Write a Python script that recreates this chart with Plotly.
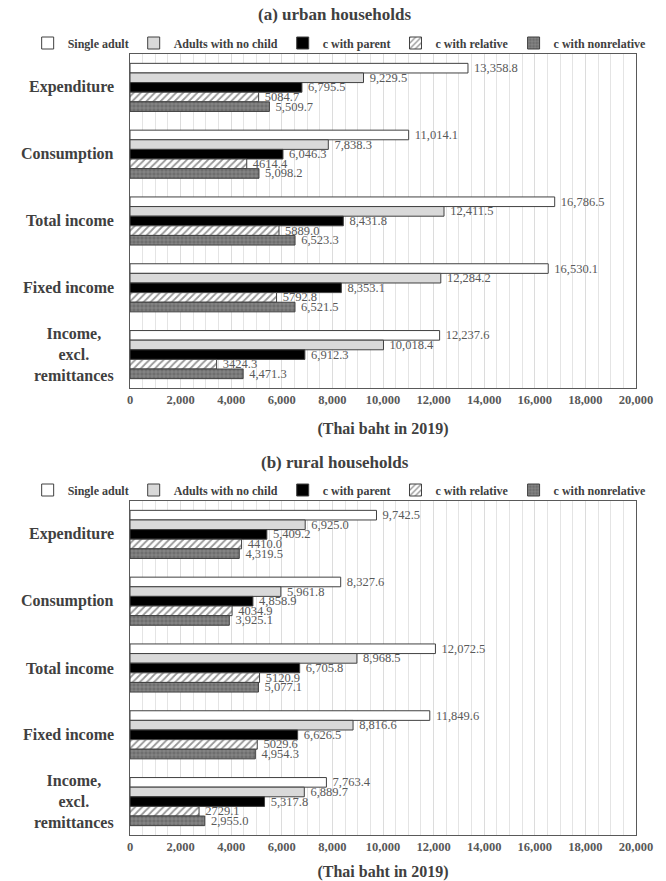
import plotly.graph_objects as go

# Household groups and their monthly figures (Thai baht, 2019)
categories = ["Expenditure", "Consumption", "Total income", "Fixed income",
              "Income, excl. remittances"]
category_labels = ["Expenditure", "Consumption", "Total income", "Fixed income",
                   "Income,<br>excl.<br>remittances"]
series_names = ["Single adult", "Adults with no child", "c with parent",
                "c with relative", "c with nonrelative"]

urban_single = [13358.8, 11014.1, 16786.5, 16530.1, 12237.6]
urban_no_child = [9229.5, 7838.3, 12411.5, 12284.2, 10018.4]
urban_parent = [6795.5, 6046.3, 8431.8, 8353.1, 6912.3]
urban_relative = [5084.7, 4614.4, 5889.0, 5792.8, 3424.3]
urban_nonrelative = [5509.7, 5098.2, 6523.3, 6521.5, 4471.3]

rural_single = [9742.5, 8327.6, 12072.5, 11849.6, 7763.4]
rural_no_child = [6925.0, 5961.8, 8968.5, 8816.6, 6889.7]
rural_parent = [5409.2, 4858.9, 6705.8, 6626.5, 5317.8]
rural_relative = [4410.0, 4034.9, 5120.9, 5029.6, 2729.1]
rural_nonrelative = [4319.5, 3925.1, 5077.1, 4954.3, 2955.0]

x_ticks = [0, 2000, 4000, 6000, 8000, 10000, 12000, 14000, 16000, 18000, 20000]

W, H = 666, 881
SERIF = "Liberation Serif, Times New Roman, Times, serif"
DARK = "#404040"
MID = "#595959"
OUTLINE = "#404040"

# fill / pattern per series
styles = [
    dict(color="#ffffff", pattern=None),
    dict(color="#d9d9d9", pattern=None),
    dict(color="#000000", pattern=None),
    dict(color="#ffffff", pattern=dict(shape="/", fgcolor="#303030", bgcolor="#ffffff",
                                       size=5, solidity=0.35, fillmode="overlay")),
    dict(color="#6e6e6e", pattern=dict(shape="+", fgcolor="#c4c4c4", bgcolor="#6e6e6e",
                                       size=4, solidity=0.25, fillmode="overlay")),
]
# the relative series is printed without a thousands separator
label_formats = ["\u00a0%{x:,.1f}", "\u00a0%{x:,.1f}", "\u00a0%{x:,.1f}",
                 "\u00a0%{x:.1f}", "\u00a0%{x:,.1f}"]

panels = [
    dict(values=[urban_single, urban_no_child, urban_parent, urban_relative, urban_nonrelative],
         xa="x", ya="y", legend="legend"),
    dict(values=[rural_single, rural_no_child, rural_parent, rural_relative, rural_nonrelative],
         xa="x2", ya="y2", legend="legend2"),
]

label_font = dict(family=SERIF, size=12.5, color=MID)

fig = go.Figure()
for p in panels:
    for name, vals, st, fmt in zip(series_names, p["values"], styles, label_formats):
        marker = dict(color=st["color"], line=dict(color=OUTLINE, width=1))
        if st["pattern"]:
            marker["pattern"] = st["pattern"]
        fig.add_trace(go.Bar(
            x=vals, y=categories, orientation="h", name=name,
            marker=marker, xaxis=p["xa"], yaxis=p["ya"], legend=p["legend"],
            texttemplate=fmt, textposition="outside", constraintext="none",
            cliponaxis=False,
            textfont=label_font, outsidetextfont=label_font,
            hoverinfo="skip",
        ))


def py(px):
    return 1 - px / H


x_dom = [130 / W, 636 / W]
dom_a = [py(388), py(54)]
dom_b = [py(835), py(501)]

xaxis_common = dict(
    range=[0, 20000], tickvals=x_ticks, tickformat=",", showgrid=True,
    gridcolor="#dcdcdc", gridwidth=1, zeroline=False,
    minor=dict(dtick=500, showgrid=True, gridcolor="#e4e4e4", gridwidth=1),
    showline=True, mirror=True, linecolor=MID, linewidth=1, ticks="",
    tickfont=dict(family=SERIF, size=12.5, color=MID, weight="bold"),
    title=dict(text="(Thai baht in 2019)", standoff=16,
               font=dict(family=SERIF, size=16, color=DARK, weight="bold")),
    automargin=False,
    domain=x_dom, fixedrange=True,
)
yaxis_common = dict(
    range=[4.5, -0.5], showticklabels=False, showgrid=False, zeroline=False,
    showline=True, mirror=True, linecolor=MID, linewidth=1, ticks="",
    automargin=False, fixedrange=True,
)

legend_common = dict(
    orientation="h", xanchor="center", x=0.51, yanchor="middle",
    font=dict(family=SERIF, size=12, color=DARK, weight="bold"),
    itemwidth=30, tracegroupgap=0, traceorder="normal",
    bgcolor="rgba(0,0,0,0)",
)

annotations = []
for ya_ref, xd in (("y", "x domain"), ("y2", "x2 domain")):
    for cat, lab in zip(categories, category_labels):
        annotations.append(dict(
            x=-0.027, xref=xd, y=cat, yref=ya_ref, text=lab, showarrow=False,
            xanchor="right", yanchor="middle", align="center",
            font=dict(family=SERIF, size=16, color=DARK, weight="bold"),
        ))

for txt, ypx in (("(a) urban households", 15), ("(b) rural households", 462)):
    annotations.append(dict(
        x=0.503, xref="paper", y=py(ypx), yref="paper", text=txt, showarrow=False,
        xanchor="center", yanchor="middle",
        font=dict(family=SERIF, size=17, color=DARK, weight="bold"),
    ))

fig.update_layout(
    width=W, height=H, margin=dict(l=0, r=0, t=0, b=0, autoexpand=False),
    paper_bgcolor="#ffffff", plot_bgcolor="#ffffff",
    barmode="group", bargap=0.28, bargroupgap=0,
    showlegend=True,
    xaxis=dict(xaxis_common, anchor="y"),
    yaxis=dict(yaxis_common, domain=dom_a, anchor="x"),
    xaxis2=dict(xaxis_common, anchor="y2"),
    yaxis2=dict(yaxis_common, domain=dom_b, anchor="x2"),
    legend=dict(legend_common, y=py(43)),
    legend2=dict(legend_common, y=py(490)),
    annotations=annotations,
)

fig.write_html("out.html")
